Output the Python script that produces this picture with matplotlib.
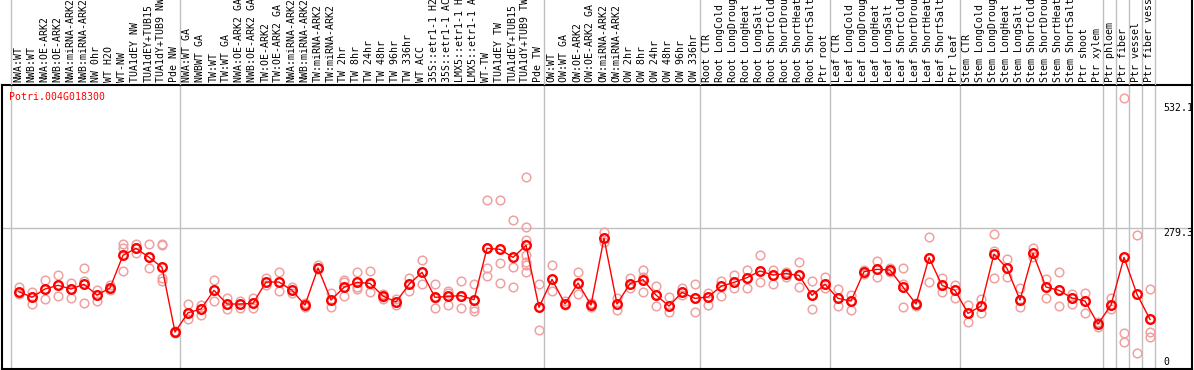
import matplotlib
matplotlib.use("Agg")
import matplotlib.pyplot as plt
import matplotlib.transforms as mtransforms

# Sample labels (88 conditions)
labels = [
    "NWA:WT", "NWB:WT", "NWA:OE-ARK2", "NWB:OE-ARK2", "NWA:miRNA-ARK2",
    "NWB:miRNA-ARK2", "NW 0hr", "WT H2O", "WT-NW", "TUA1dEY NW",
    "TUA1dEY+TUB15", "TUA1dY+TUB9 NW", "Pde NW", "NWA:WT GA", "NWBWT GA",
    "TW:WT", "TW:WT GA", "NWA:OE-ARK2 GA", "NWB:OE-ARK2 GA", "TW:OE-ARK2",
    "TW:OE-ARK2 GA", "NWA:miRNA-ARK2", "NWB:miRNA-ARK2", "TW:miRNA-ARK2",
    "TW:miRNA-ARK2", "TW 2hr", "TW 8hr", "TW 24hr", "TW 48hr", "TW 96hr",
    "TW 336hr", "WT ACC", "35S::etr1-1 H2", "35S::etr1-1 AC", "LMX5::etr1-1 H",
    "LMX5::etr1-1 A", "WT-TW", "TUA1dEY TW", "TUA1dEY+TUB15", "TUA1dY+TUB9 TW",
    "Pde TW", "OW:WT", "OW:WT GA", "OW:OE-ARK2", "OW:OE-ARK2 GA",
    "OW:miRNA-ARK2", "OW:miRNA-ARK2", "OW 2hr", "OW 8hr", "OW 24hr",
    "OW 48hr", "OW 96hr", "OW 336hr", "Root CTR", "Root LongCold",
    "Root LongDroug", "Root LongHeat", "Root LongSalt", "Root ShortCold",
    "Root ShortDrou", "Root ShortHeat", "Root ShortSalt", "Ptr root",
    "Leaf CTR", "Leaf LongCold", "Leaf LongDroug", "Leaf LongHeat",
    "Leaf LongSalt", "Leaf ShortCold", "Leaf ShortDrou", "Leaf ShortHeat",
    "Leaf ShortSalt", "Ptr leaf", "Stem CTR", "Stem LongCold",
    "Stem LongDroug", "Stem LongHeat", "Stem LongSalt", "Stem ShortCold",
    "Stem ShortDrou", "Stem ShortHeat", "Stem ShortSalt", "Ptr shoot",
    "Ptr xylem", "Ptr phloem", "Ptr fiber", "Ptr vessel", "Ptr fiber vess",
]

# mean expression per condition
means = [
    151.5, 140.2, 157.0, 164.4, 157.0, 166.4, 144.8, 159.0, 225.0, 239.0,
    221.0, 200.7, 70.2, 109.0, 116.6, 154.3, 126.7, 126.7, 128.0, 171.0,
    171.0, 154.3, 124.6, 199.3, 134.7, 160.3, 170.4, 168.4, 142.8, 130.7,
    166.3, 190.6, 140.1, 142.1, 143.5, 135.4, 239.0, 237.0, 220.8, 245.0,
    120.0, 176.4, 126.7, 169.0, 124.6, 259.2, 126.7, 167.7, 175.8, 144.8,
    122.6, 150.2, 138.1, 140.8, 162.3, 170.4, 179.8, 193.3, 185.2, 187.9,
    184.5, 144.2, 166.3, 138.1, 132.7, 191.9, 196.6, 195.3, 161.0, 126.7,
    220.1, 164.3, 154.2, 107.8, 122.6, 227.5, 198.6, 134.7, 228.9, 161.0,
    154.2, 138.8, 132.7, 86.3, 124.6, 220.8, 146.2, 95.7,
]

# individual replicates per condition
replicates = [
    [160.3, 151.5, 146.2], [150.2, 140.1, 126.7], [175.1, 156.9, 136.8],
    [185.2, 164.3, 142.8], [169.7, 156.9, 138.1], [199.3, 173.1, 166.3, 128.0],
    [154.9, 144.8, 132.0], [165.0, 158.9, 154.9], [248.4, 239.0, 193.3],
    [248.4, 239.0, 228.9], [247.0, 220.8, 199.3], [247.0, 245.7, 178.5, 173.1],
    [72.9, 67.5], [126.7, 109.2, 96.4], [124.7, 116.6, 105.2],
    [175.1, 154.2, 132.0], [138.1, 126.7, 116.6], [132.7, 126.7, 119.3],
    [139.5, 128.0, 119.3], [178.5, 171.1, 165.0], [191.2, 171.1, 152.9],
    [161.6, 154.2, 148.2],
    [128.0, 124.6, 121.3], [205.4, 199.3, 196.6], [148.2, 134.7, 121.3],
    [175.1, 171.7, 142.1], [190.6, 161.6, 156.3], [193.3, 167.0, 150.2],
    [146.2, 140.1, 136.8], [136.8, 130.7, 124.6], [178.5, 166.3, 152.9],
    [214.8, 190.6, 166.3], [166.3, 138.1, 118.0], [153.6, 148.2, 124.6],
    [173.1, 143.5, 118.0], [166.3, 118.0, 113.2], [335.8, 199.3, 183.8],
    [335.8, 208.7, 168.4], [296.1, 202.0, 161.0],
    [382.2, 281.3, 255.8, 225.5, 212.1, 205.4, 191.9],
    [166.3, 73.5], [204.7, 152.9], [132.7, 124.6], [191.2, 146.2],
    [128.0, 121.3],
    [272.6, 259.2, 252.4], [138.1, 126.7, 113.9], [179.8, 167.7, 159.6],
    [195.3, 181.8, 150.2], [163.0, 144.8, 122.6], [140.8, 122.6, 111.2],
    [158.3, 150.2, 144.8], [166.3, 138.1, 109.9], [148.2, 140.8, 124.6],
    [173.1, 162.3, 142.8], [185.2, 170.4, 159.6], [194.6, 179.8, 158.3],
    [224.9, 193.3, 170.4], [195.3, 185.2, 166.3], [190.6, 187.9, 181.2],
    [211.4, 184.5, 161.0], [173.7, 144.2, 116.6], [181.2, 166.3, 158.3],
    [156.3, 138.1, 122.6], [144.8, 132.7, 114.6], [195.3, 191.9, 187.9],
    [213.4, 196.6, 181.8], [200.0, 195.3, 191.9],
    [199.3, 167.0, 161.0, 120.6], [128.0, 126.7, 123.3], [261.2, 220.1, 171.1],
    [179.8, 164.3, 151.5], [164.3, 154.2, 138.1], [124.6, 107.8, 89.7],
    [137.4, 122.6, 109.2], [267.9, 234.3, 178.5], [217.5, 198.6, 181.2],
    [158.3, 134.7, 121.3], [239.0, 228.9, 222.2], [176.4, 161.0, 138.1],
    [191.2, 154.2, 122.0], [146.2, 138.8, 126.7], [148.9, 132.7, 109.2],
    [91.0, 86.3, 79.6], [138.1, 124.6, 116.6], [541.6, 67.5, 50.7],
    [265.9, 27.1], [156.9, 69.5, 60.8],
]

# last sample index of each group (separator drawn after it)
group_ends = [-1, 12, 40, 52, 62, 72, 83, 84, 85, 86, 87]
gene = "Potri.004G018300"
y_ticks = [0, 279.3, 532.1]

W, H = 1194, 370
mono = "DejaVu Sans Mono"
fs = 7.1
grid_col = "#c0c0c0"

fig = plt.figure(figsize=(W / 100, H / 100), dpi=100)
ax = fig.add_axes([1.5 / W, 1 / H, (1192 - 1.5) / W, 284 / H])
ax_lab = fig.add_axes([1.5 / W, 285 / H, (1192 - 1.5) / W, 85 / H], sharex=ax)

ax.set_xlim(-1.346, 90.23)
ax.set_ylim(-4.4, 568.5)
ax_lab.set_ylim(0, 1)

# separators and reference line
for g in group_ends:
    ax.axvline(g + 0.4, color=grid_col, lw=1, zorder=0)
    ax_lab.axvline(g + 0.4, color=grid_col, lw=1, zorder=0)
ax.axhline(y_ticks[1], color=grid_col, lw=1, zorder=0)

# replicates
for i, reps in enumerate(replicates):
    ax.plot([i] * len(reps), reps, linestyle="none", marker="o",
            markersize=6.2, markerfacecolor="none", markeredgecolor="#f0a0a0",
            markeredgewidth=1.1, zorder=2)

# means
x = list(range(len(means)))
ax.plot(x, means, color="red", lw=1, zorder=3)
ax.plot(x, means, linestyle="none", marker="o", markersize=6.2,
        markerfacecolor="none", markeredgecolor="red", markeredgewidth=1.7,
        zorder=4)

# y labels inside the plot on the right
tx = mtransforms.blended_transform_factory(ax.transAxes, ax.transData)
xr = (1163 - 1.5) / (1192 - 1.5)
ax.text(xr, y_ticks[2], "532.1", transform=tx, ha="left", va="top",
        family=mono, fontsize=fs)
ax.text(xr, y_ticks[1], "279.3", transform=tx, ha="left", va="top",
        family=mono, fontsize=fs)
ax.text(xr, y_ticks[0], "0", transform=tx, ha="left", va="bottom",
        family=mono, fontsize=fs)

ax.text(8 / 1190.5, 1 - 7 / 284, gene, transform=ax.transAxes, ha="left",
        va="top", color="red", family=mono, fontsize=fs)

# sample labels (the long ones run off the top, as in the source image)
tl = mtransforms.blended_transform_factory(ax_lab.transData, ax_lab.transAxes)
for i, lab in enumerate(labels):
    ax_lab.text(i - 0.05, 0.03, lab, transform=tl, rotation=90, ha="center",
                va="bottom", family=mono, fontsize=fs)

for a in (ax, ax_lab):
    a.set_xticks([])
    a.set_yticks([])
for s in ax.spines.values():
    s.set_linewidth(1.5)
    s.set_color("black")
for name in ("left", "top", "bottom"):
    ax_lab.spines[name].set_visible(False)
ax_lab.spines["right"].set_linewidth(1.5)
ax_lab.patch.set_visible(False)

fig.savefig("out.png", dpi=100)
